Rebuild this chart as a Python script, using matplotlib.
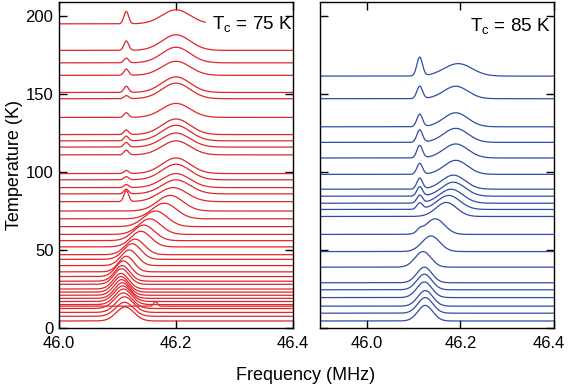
import matplotlib
matplotlib.use('Agg')
import matplotlib.pyplot as plt
import matplotlib.transforms as mtransforms
import numpy as np

plt.rcParams['font.family'] = ['Liberation Sans', 'DejaVu Sans']

# left panel (Tc = 75 K): baseline temperature, broad line centre / height / width,
# sharp line height (at 46.115 MHz)
red_temp = [195, 178, 170, 162, 151, 147, 135, 124, 120, 116, 111, 99, 95, 90, 86,
            81, 75, 70, 65, 60, 56, 52, 47, 44, 40, 36, 33, 30, 28, 25, 23, 21,
            19, 17, 15, 12.5, 10, 7.5, 4.5]
red_center = [46.20, 46.20, 46.20, 46.20, 46.20, 46.20, 46.20, 46.20, 46.20, 46.20, 46.20,
              46.20, 46.20, 46.20, 46.20, 46.195, 46.19, 46.18, 46.165, 46.155, 46.145,
              46.14, 46.13, 46.125, 46.12, 46.115, 46.11, 46.108, 46.107, 46.106, 46.106,
              46.107, 46.108, 46.109, 46.11, 46.11, 46.112, 46.112, 46.113]
red_amp = [9, 10, 10, 9, 10, 10, 9, 10, 10, 9, 9, 10, 10, 9, 9, 9, 10, 10, 10, 10, 10,
           10, 10, 10, 10, 10, 10, 10, 10, 10, 10, 10, 10, 10, 10, 10, 10, 9, 9]
red_width = [0.024, 0.024, 0.024, 0.024, 0.024, 0.024, 0.024, 0.024, 0.024, 0.024, 0.024,
             0.024, 0.024, 0.024, 0.024, 0.024, 0.022, 0.021, 0.02, 0.019, 0.018, 0.017,
             0.016, 0.015, 0.014, 0.013, 0.013, 0.013, 0.013, 0.013, 0.013, 0.013, 0.013,
             0.014, 0.014, 0.015, 0.015, 0.015, 0.015]
red_sharp = [8, 6, 3, 4, 4, 2, 3, 3, 3, 3, 3, 2, 2, 2, 3, 7, 0, 0, 0, 0, 0, 0, 0, 0, 0,
             0, 0, 0, 0, 0, 0, 0, 0, 0, 0, 0, 0, 0, 0]

# right panel (Tc = 85 K)
blue_temp = [161.5, 147, 129, 119, 109, 98.5, 89, 84.5, 80, 76, 71.5, 60, 49, 39, 29,
             24.5, 19.5, 14, 9.5, 4.5]
blue_center = [46.195, 46.19, 46.19, 46.19, 46.19, 46.19, 46.185, 46.185, 46.18, 46.175,
               46.17, 46.146, 46.137, 46.12, 46.123, 46.123, 46.123, 46.125, 46.125, 46.125]
blue_amp = [8, 8, 9, 9, 9, 9, 9, 9, 9, 9, 9, 10, 10, 10, 10, 10, 10, 10, 10, 10]
blue_width = [0.03, 0.026, 0.026, 0.026, 0.026, 0.025, 0.025, 0.025, 0.025, 0.024, 0.022,
              0.02, 0.019, 0.017, 0.016, 0.016, 0.016, 0.016, 0.016, 0.016]
blue_sharp = [12, 8, 8, 8, 8, 7, 7, 6, 5, 4, 0, 2, 0, 0, 0, 0, 0, 0, 0, 0]

red = '#e0262b'
blue = '#2f4ca8'

fig = plt.figure(figsize=(5.68, 3.92), dpi=100)
ax1 = fig.add_axes([59 / 568, 64 / 392, 234 / 568, 326 / 392])
ax2 = fig.add_axes([320 / 568, 64 / 392, 234 / 568, 326 / 392])

f1 = np.linspace(46.0, 46.4, 800)
for i in range(len(red_temp)):
    y = (red_temp[i]
         + red_amp[i] * np.exp(-0.5 * ((f1 - red_center[i]) / red_width[i]) ** 2)
         + red_sharp[i] * np.exp(-0.5 * ((f1 - 46.115) / 0.004) ** 2))
    if i == 0:
        keep = f1 <= 46.25
        ax1.plot(f1[keep], y[keep], color=red, lw=0.9)
    else:
        ax1.plot(f1, y, color=red, lw=0.9)
# small spike on one low temperature trace
ax1.plot(f1, 14 + 3 * np.exp(-0.5 * ((f1 - 46.165) / 0.003) ** 2), color=red, lw=0.9)

f2 = np.linspace(45.9, 46.4, 900)
for i in range(len(blue_temp)):
    y = (blue_temp[i]
         + blue_amp[i] * np.exp(-0.5 * ((f2 - blue_center[i]) / blue_width[i]) ** 2)
         + blue_sharp[i] * np.exp(-0.5 * ((f2 - 46.113) / 0.006) ** 2))
    ax2.plot(f2, y, color=blue, lw=0.9)

ax1.set_xlim(46.0, 46.4)
ax2.set_xlim(45.9, 46.4)
for ax in (ax1, ax2):
    ax.set_ylim(0, 209)
    ax.set_xticks([46.0, 46.2, 46.4])
    ax.set_xticklabels(['46.0', '46.2', '46.4'])
    ax.set_yticks([0, 50, 100, 150, 200])
    ax.tick_params(direction='in', length=6, width=1, top=True, right=True,
                   labelsize=12)
    ax.tick_params(axis='x', pad=6)
    ax.tick_params(axis='y', pad=4)
    for s in ax.spines.values():
        s.set_linewidth(1)
ax2.set_yticklabels([])

# nudge the last label of the right panel so it stays inside the figure
last = ax2.get_xticklabels()[-1]
last.set_transform(last.get_transform() +
                   mtransforms.ScaledTranslation(-5 / 100, 0, fig.dpi_scale_trans))

ax1.text(0.655, 0.93, 'T$_\\mathregular{c}$ = 75 K', transform=ax1.transAxes,
         fontsize=13.5, ha='left', va='center')
ax2.text(0.64, 0.923, 'T$_\\mathregular{c}$ = 85 K', transform=ax2.transAxes,
         fontsize=13.5, ha='left', va='center')

ax1.set_ylabel('Temperature (K)', fontsize=13, labelpad=2)
fig.text(306 / 568, 1 - 376 / 392, 'Frequency (MHz)', fontsize=13,
         ha='center', va='center')

fig.savefig('out.png', dpi=100)
